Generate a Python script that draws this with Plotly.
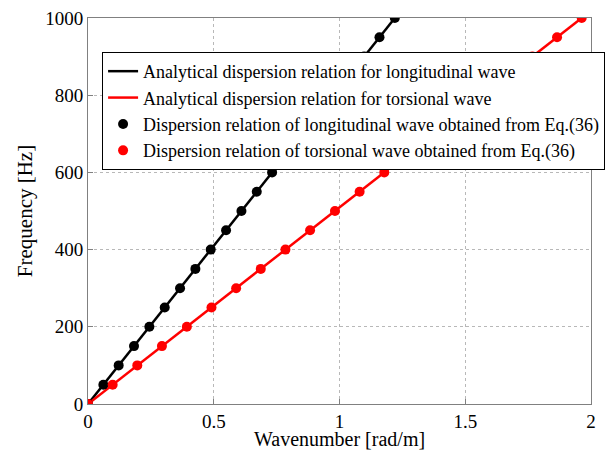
import plotly.graph_objects as go

freq = [0, 50, 100, 150, 200, 250, 300, 350, 400, 450, 500, 550, 600, 650, 700, 750, 800, 850, 900, 950, 1000]
k_long = [0, 0.061, 0.122, 0.183, 0.244, 0.305, 0.366, 0.427, 0.488, 0.549, 0.610, 0.671, 0.732,
          0.793, 0.854, 0.915, 0.976, 1.037, 1.098, 1.159, 1.220]
k_tors = [0, 0.098, 0.196, 0.294, 0.393, 0.491, 0.589, 0.687, 0.785, 0.883, 0.982, 1.080, 1.178,
          1.276, 1.374, 1.472, 1.571, 1.669, 1.767, 1.865, 1.963]

xticks = [0, 0.5, 1, 1.5, 2]
xticklabels = ["0", "0.5", "1", "1.5", "2"]
yticks = [0, 200, 400, 600, 800, 1000]
x_title = "Wavenumber [rad/m]"
y_title = "Frequency [Hz]"

font = "Liberation Serif"

fig = go.Figure()
fig.add_trace(go.Scatter(x=k_long, y=freq, mode="lines", line=dict(color="black", width=2.5),
                         name="Analytical dispersion relation for longitudinal wave"))
fig.add_trace(go.Scatter(x=k_tors, y=freq, mode="lines", line=dict(color="red", width=2.5),
                         name="Analytical dispersion relation for torsional wave"))
fig.add_trace(go.Scatter(x=k_long, y=freq, mode="markers", marker=dict(color="black", size=10),
                         name="Dispersion relation of longitudinal wave obtained from Eq.(36)"))
fig.add_trace(go.Scatter(x=k_tors, y=freq, mode="markers", marker=dict(color="red", size=10),
                         name="Dispersion relation of torsional wave obtained from Eq.(36)"))

axis_common = dict(showline=True, linecolor="#808080", linewidth=1, mirror=True,
                   showgrid=True, gridcolor="#b8b8b8", griddash="dot", gridwidth=1,
                   zeroline=False, ticks="inside", ticklen=5, tickcolor="#808080",
                   tickangle=0,
                   tickfont=dict(family=font, size=19, color="black"))

fig.update_layout(
    width=605, height=452,
    margin=dict(l=88, r=14, t=18, b=48, autoexpand=False),
    paper_bgcolor="white", plot_bgcolor="white",
    font=dict(family=font, color="black"),
    showlegend=True,
    legend=dict(x=0.028, y=0.912, xanchor="left", yanchor="top",
                bgcolor="white", bordercolor="black", borderwidth=1,
                font=dict(family=font, size=18, color="black"),
                tracegroupgap=0, itemwidth=30),
    xaxis=dict(range=[0, 2], tickvals=xticks, ticktext=xticklabels, automargin=False,
               **axis_common),
    yaxis=dict(range=[0, 1000], tickvals=yticks, automargin=True,
               title=dict(text=y_title, font=dict(family=font, size=21), standoff=6),
               **axis_common),
)
fig.add_annotation(text=x_title, xref="paper", yref="paper", x=0.5, y=-0.1245,
                   xanchor="center", yanchor="bottom", showarrow=False,
                   font=dict(family=font, size=20, color="black"))

fig.write_html("out.html")
